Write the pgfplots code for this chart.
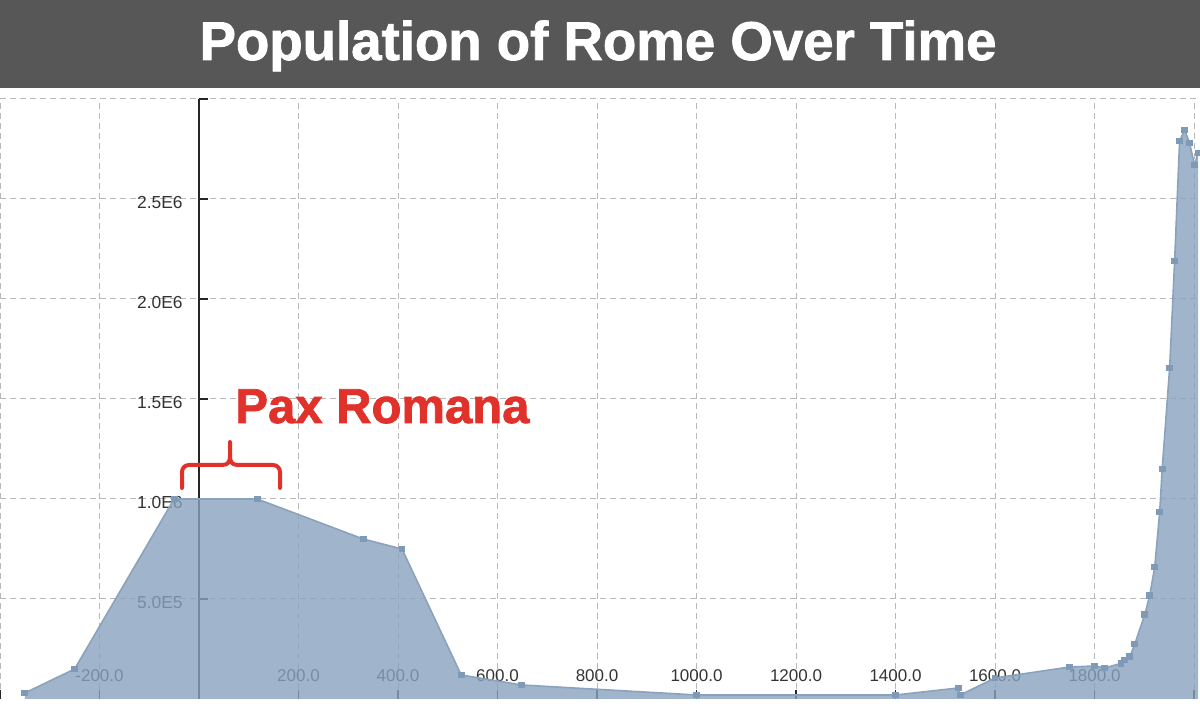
\documentclass[border=0pt]{standalone}
\usepackage{fontspec}
\setmainfont{Liberation Sans}
\newfontfamily\heavyfont{Liberation Sans}[BoldFeatures={FakeBold=1.5}]
\usepackage{pgfplots}
\usepackage{pgfplotstable}
\pgfplotsset{compat=1.18}
\definecolor{titlegray}{HTML}{575757}
\definecolor{areafill}{RGB}{136,163,190}
\definecolor{areaedge}{HTML}{8AA2BB}
\definecolor{markc}{HTML}{7F9AB6}
\definecolor{gridc}{HTML}{B8B8B8}
\definecolor{paxred}{HTML}{E0312B}
\pgfplotstableread{
year pop
-350 30000
-250 150000
-50 1000000
117 1000000
330 800000
408 750000
527 120000
649 70000
1000 20000
1400 20000
1526 55000
1530 20000
1600 105000
1750 160000
1800 165000
1820 155000
1853 178000
1861 195000
1871 212000
1881 275000
1901 422000
1911 518000
1921 660000
1931 935000
1936 1150000
1951 1655000
1961 2190000
1971 2790000
1981 2845000
1991 2780000
2001 2670000
2008 2730000
}\romedata
\begin{document}
\begin{tikzpicture}
\useasboundingbox (0,0) rectangle (600pt,353pt);
\fill[titlegray] (0,309pt) rectangle (600pt,353pt);
\node[anchor=base, text=white, inner sep=0pt, font=\heavyfont\bfseries\fontsize{27.3}{32}\selectfont] at (299pt,323pt) {Population of Rome Over Time};
\begin{axis}[
  at={(0pt,3.5pt)}, anchor=south west,
  scale only axis, width=600pt, height=300pt,
  xmin=-400, xmax=2012, ymin=0, ymax=3000000,
  axis x line=bottom, axis y line=center,
  axis line style={-},
  x axis line style={draw=none},
  y axis line style={draw=black!85, line width=0.7pt},
  xtick={-400,-200,0,200,400,600,800,1000,1200,1400,1600,1800,2000},
  xticklabels={{},-200.0,{},200.0,400.0,600.0,800.0,1000.0,1200.0,1400.0,1600.0,1800.0,{}},
  ytick={500000,1000000,1500000,2000000,2500000,3000000},
  yticklabels={5.0E5,1.0E6,1.5E6,2.0E6,2.5E6,{}},
  scaled y ticks=false,
  tick align=inside,
  major tick length=4.5pt,
  tick style={black!85, line width=0.7pt},
  xticklabel style={anchor=base, yshift=8.5pt, font=\fontsize{8.5}{10}\selectfont, text=black!80},
  yticklabel style={anchor=east, inner sep=0pt, xshift=-8pt, yshift=-2pt, font=\fontsize{8.7}{10}\selectfont, text=black!80},
  grid=major,
  grid style={gridc, line width=0.5pt, dash pattern=on 3pt off 2pt},
]
\addplot[draw=none, fill=areafill, fill opacity=0.8] table[x=year, y=pop] {\romedata} \closedcycle;
\addplot[draw=areaedge, line width=0.8pt, mark=square*, mark size=1.3pt, mark options={fill=markc, draw=markc}] table[x=year, y=pop] {\romedata};
\end{axis}
\node[anchor=base west, inner sep=0pt, text=paxred, font=\heavyfont\bfseries\fontsize{24.5}{28}\selectfont] at (117.5pt,141.5pt) {Pax Romana};
\draw[paxred, line width=2pt, line cap=round, line join=round]
  (91pt,109pt) -- (91pt,117pt) to[out=90,in=180] (94.5pt,120.5pt) -- (111pt,120.5pt)
  .. controls (114pt,120.5pt) and (115pt,122pt) .. (115pt,125pt) -- (115pt,132pt);
\draw[paxred, line width=2pt, line cap=round, line join=round]
  (140pt,109pt) -- (140pt,117pt) to[out=90,in=0] (136.5pt,120.5pt) -- (119pt,120.5pt)
  .. controls (116pt,120.5pt) and (115pt,122pt) .. (115pt,125pt);
\end{tikzpicture}
\end{document}
